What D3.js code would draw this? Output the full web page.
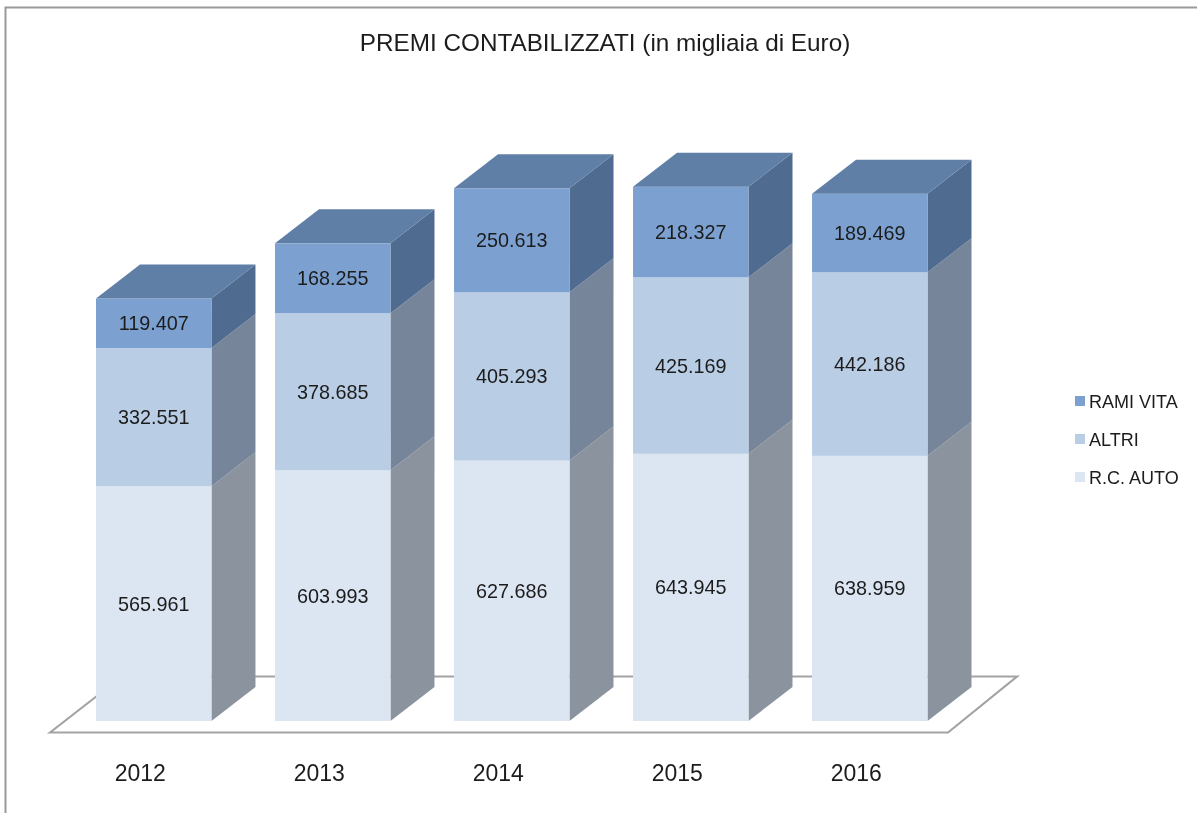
<!DOCTYPE html>
<html><head><meta charset="utf-8">
<script src="https://cdn.jsdelivr.net/npm/d3@7"></script>
<style>html,body{margin:0;background:#fff}svg{display:block}text{font-family:"Liberation Sans",Arial,sans-serif;fill:#1c1c1c}</style>
</head><body><svg id="c" width="1197" height="813"></svg>
<script>
const years = ["2012","2013","2014","2015","2016"];
const rcAuto = [565961,603993,627686,643945,638959];
const altri = [332551,378685,405293,425169,442186];
const ramiVita = [119407,168255,250613,218327,189469];
const seriesNames = ["R.C. AUTO","ALTRI","RAMI VITA"];
const seriesValues = [rcAuto,altri,ramiVita];
const frontColors = ["#dce6f2","#b9cde5","#7ca1d1"];
const sideColors = ["#8a939e","#76859a","#4f6c90"];
const topColor = "#5f7fa6";
const title = "PREMI CONTABILIZZATI (in migliaia di Euro)";
const fmt = v => d3.format(",")(v).replace(/,/g,".");

const svg = d3.select("#c");
svg.append("defs").append("filter").attr("id","soft").attr("x","-2%").attr("y","-2%").attr("width","104%").attr("height","104%")
  .append("feGaussianBlur").attr("stdDeviation",0.5);
const root = svg.append("g").attr("filter","url(#soft)");
const x = d3.scaleBand().domain(years).range([96,927.5]).paddingInner(0.355).paddingOuter(0);
const y = d3.scaleLinear().domain([0,1300000]).range([721,181.5]);
const dx = 44, dy = -34;

// frame
root.append("path").attr("d","M5.5,813V7.5H1197").attr("fill","none").attr("stroke","#9a9a9a").attr("stroke-width",2);
// floor
root.append("path").attr("d","M50,732.5L122,676.5H1017L948,732.5Z").attr("fill","#fff").attr("stroke","#a3a3a3").attr("stroke-width",2.2);

root.append("text").attr("x",605).attr("y",51).attr("text-anchor","middle").attr("font-size",24.3).text(title);

const poly = pts => "M"+pts.map(p=>p.join(",")).join("L")+"Z";
years.forEach((yr,i)=>{
  const g = root.append("g");
  const x0 = x(yr), x1 = x0 + x.bandwidth();
  let cum = 0;
  seriesValues.forEach((s,k)=>{
    const v = s[i], yb = y(cum), yt = y(cum+v);
    g.append("path").attr("d",poly([[x1,yb],[x1+dx,yb+dy],[x1+dx,yt+dy],[x1,yt]])).attr("fill",sideColors[k]);
    g.append("rect").attr("x",x0).attr("y",yt).attr("width",x.bandwidth()).attr("height",yb-yt).attr("fill",frontColors[k]);
    g.append("text").attr("x",(x0+x1)/2).attr("y",(yb+yt)/2+7).attr("text-anchor","middle").attr("font-size",19.8).text(fmt(v));
    cum += v;
  });
  const yt = y(cum);
  g.append("path").attr("d",poly([[x0,yt],[x0+dx,yt+dy],[x1+dx,yt+dy],[x1,yt]])).attr("fill",topColor);
  root.append("text").attr("x",(x0+x1)/2-13.5).attr("y",781).attr("text-anchor","middle").attr("font-size",23).text(yr);
});

// legend
const legY = d3.scalePoint().domain(["RAMI VITA","ALTRI","R.C. AUTO"]).range([401,477]);
seriesNames.forEach((n,k)=>{
  root.append("rect").attr("x",1075).attr("y",legY(n)-5).attr("width",10).attr("height",10).attr("fill",frontColors[k]);
  root.append("text").attr("x",1089).attr("y",legY(n)+6.5).attr("font-size",18).text(n);
});
</script></body></html>
